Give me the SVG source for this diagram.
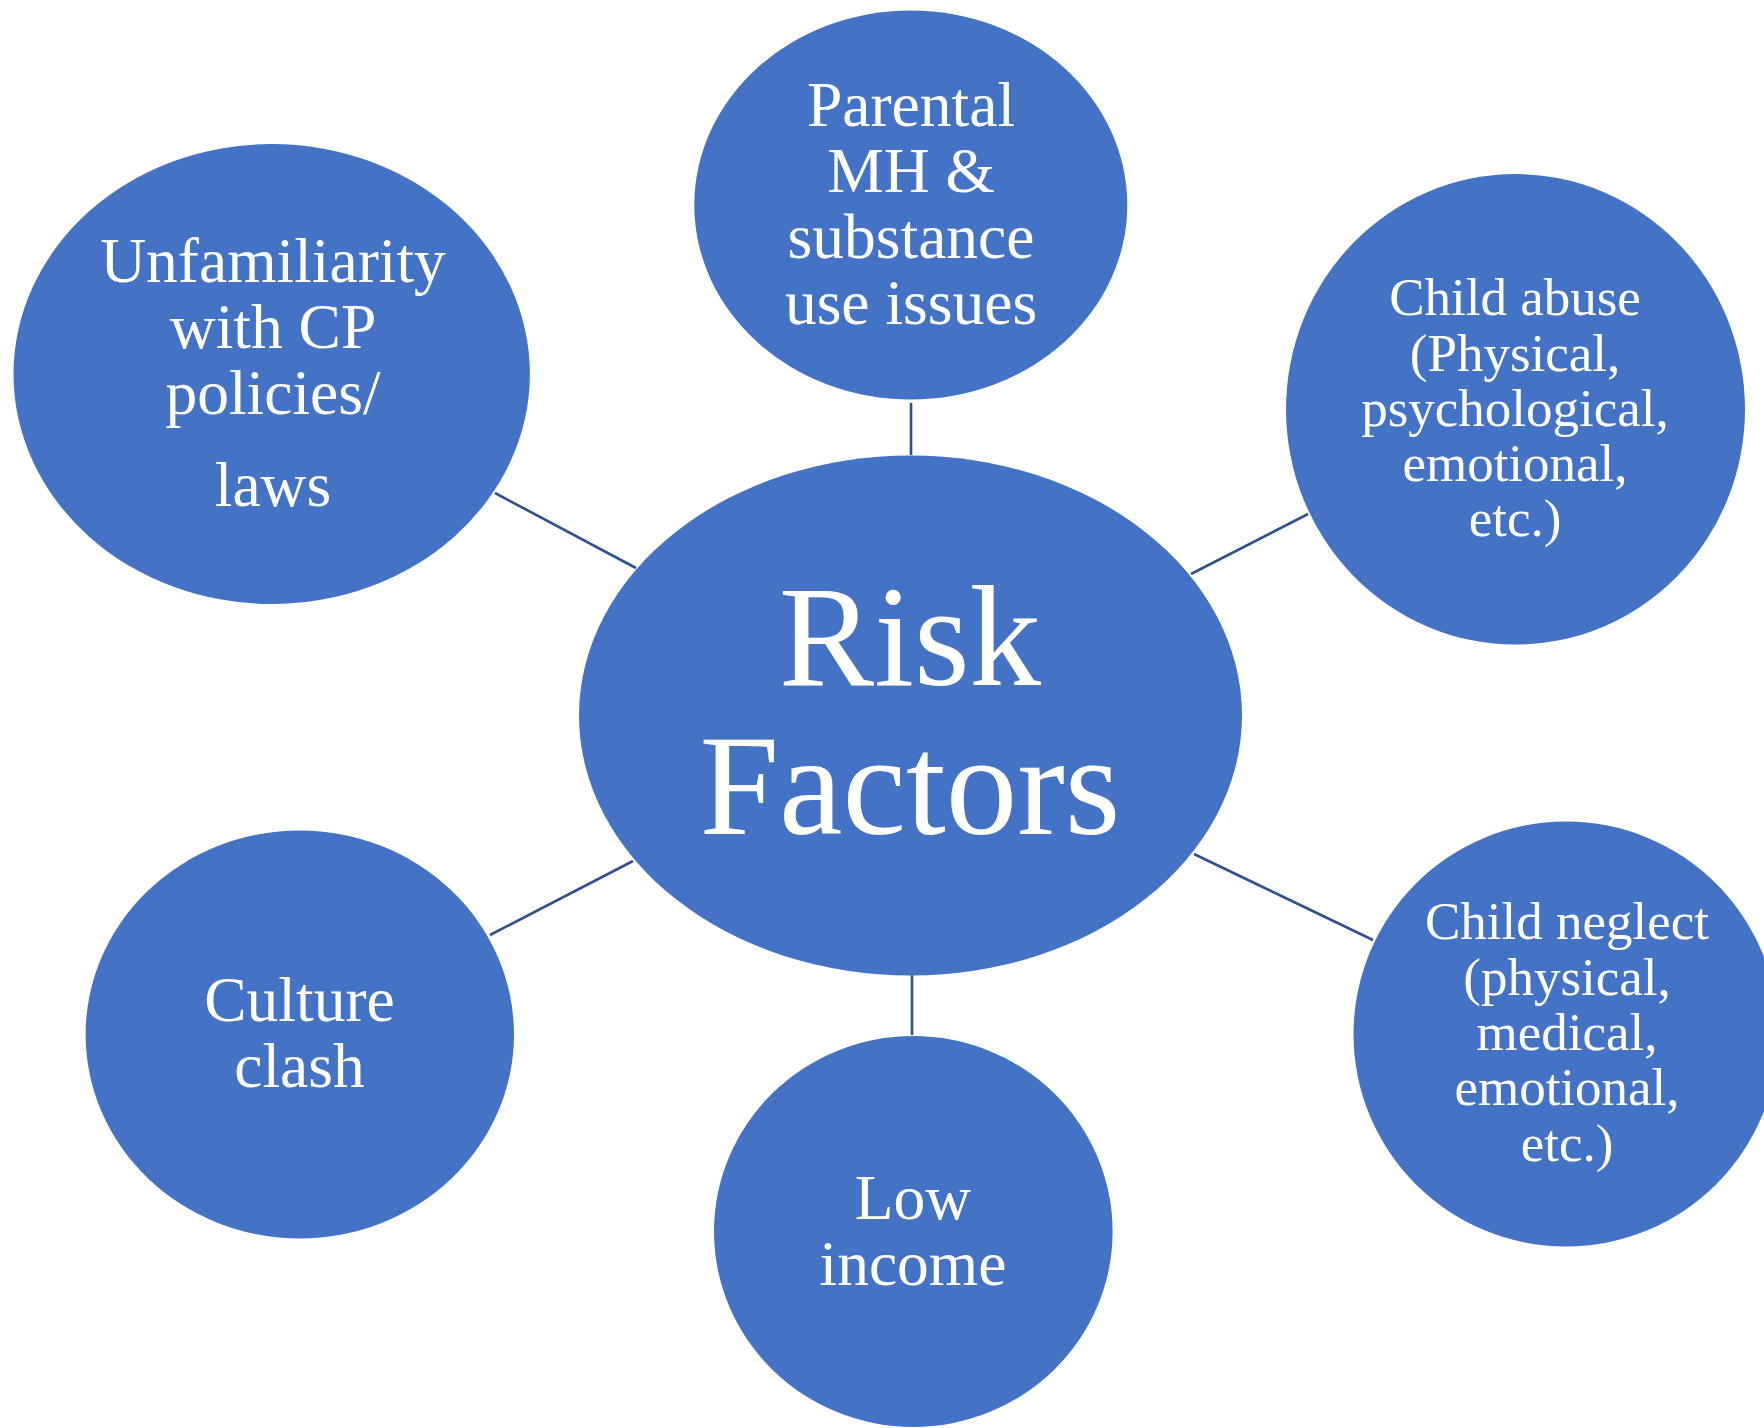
<svg xmlns="http://www.w3.org/2000/svg" width="1764" height="1428" viewBox="0 0 1764 1428">
  <style>
    .node { fill: #4472C4; }
    .link { stroke: #2F528F; stroke-width: 2.6; fill: none; }
    .lbl { font-family: "Liberation Serif", "Times New Roman", serif; fill: #FFFFFF; text-anchor: middle; }
    .t63 { font-size: 63.5px; }
    .t53 { font-size: 53px; }
    .t143 { font-size: 143px; }
  </style>
  <rect width="1764" height="1428" fill="#FFFFFF"/>

  <!-- spokes from the hub to each factor -->
  <g id="connectors">
    <line class="link" x1="911" y1="403" x2="911" y2="455"/>
    <line class="link" x1="495" y1="493" x2="636" y2="568"/>
    <line class="link" x1="1308" y1="514" x2="1191" y2="574"/>
    <line class="link" x1="633" y1="861" x2="490" y2="935"/>
    <line class="link" x1="1194" y1="854" x2="1373" y2="940"/>
    <line class="link" x1="912" y1="975" x2="912" y2="1035"/>
  </g>

  <g id="hub">
    <ellipse class="node" cx="910.5" cy="715.5" rx="331.5" ry="260"/>
    <text class="lbl t143" x="910" y="685">Risk</text>
    <text class="lbl t143" x="910" y="834">Factors</text>
  </g>

  <g id="parental">
    <ellipse class="node" cx="910.8" cy="205" rx="216.5" ry="194.5"/>
    <text class="lbl t63" x="911" y="126">Parental</text>
    <text class="lbl t63" x="911" y="192">MH &amp;</text>
    <text class="lbl t63" x="911" y="258">substance</text>
    <text class="lbl t63" x="911" y="324">use issues</text>
  </g>

  <g id="unfamiliarity">
    <ellipse class="node" cx="271.7" cy="374" rx="258.2" ry="230"/>
    <text class="lbl t63" x="273" y="282">Unfamiliarity</text>
    <text class="lbl t63" x="273" y="348">with CP</text>
    <text class="lbl t63" x="273" y="414">policies/</text>
    <text class="lbl t63" x="273" y="506">laws</text>
  </g>

  <g id="child-abuse">
    <ellipse class="node" cx="1515.5" cy="409.3" rx="229.5" ry="235.3"/>
    <text class="lbl t53" x="1515" y="315">Child abuse</text>
    <text class="lbl t53" x="1515" y="370.5">(Physical,</text>
    <text class="lbl t53" x="1515" y="425.5">psychological,</text>
    <text class="lbl t53" x="1515" y="480.5">emotional,</text>
    <text class="lbl t53" x="1515" y="535.5">etc.)</text>
  </g>

  <g id="child-neglect">
    <ellipse class="node" cx="1566" cy="1034" rx="212.5" ry="212.5"/>
    <text class="lbl t53" x="1567" y="939">Child neglect</text>
    <text class="lbl t53" x="1567" y="995">(physical,</text>
    <text class="lbl t53" x="1567" y="1050">medical,</text>
    <text class="lbl t53" x="1567" y="1105">emotional,</text>
    <text class="lbl t53" x="1567" y="1160.5">etc.)</text>
  </g>

  <g id="low-income">
    <ellipse class="node" cx="913.3" cy="1231.5" rx="199.3" ry="195.5"/>
    <text class="lbl t63" x="913" y="1219">Low</text>
    <text class="lbl t63" x="913" y="1285">income</text>
  </g>

  <g id="culture-clash">
    <ellipse class="node" cx="299.8" cy="1034.5" rx="214.2" ry="204"/>
    <text class="lbl t63" x="299.5" y="1021">Culture</text>
    <text class="lbl t63" x="299.5" y="1087">clash</text>
  </g>
</svg>
